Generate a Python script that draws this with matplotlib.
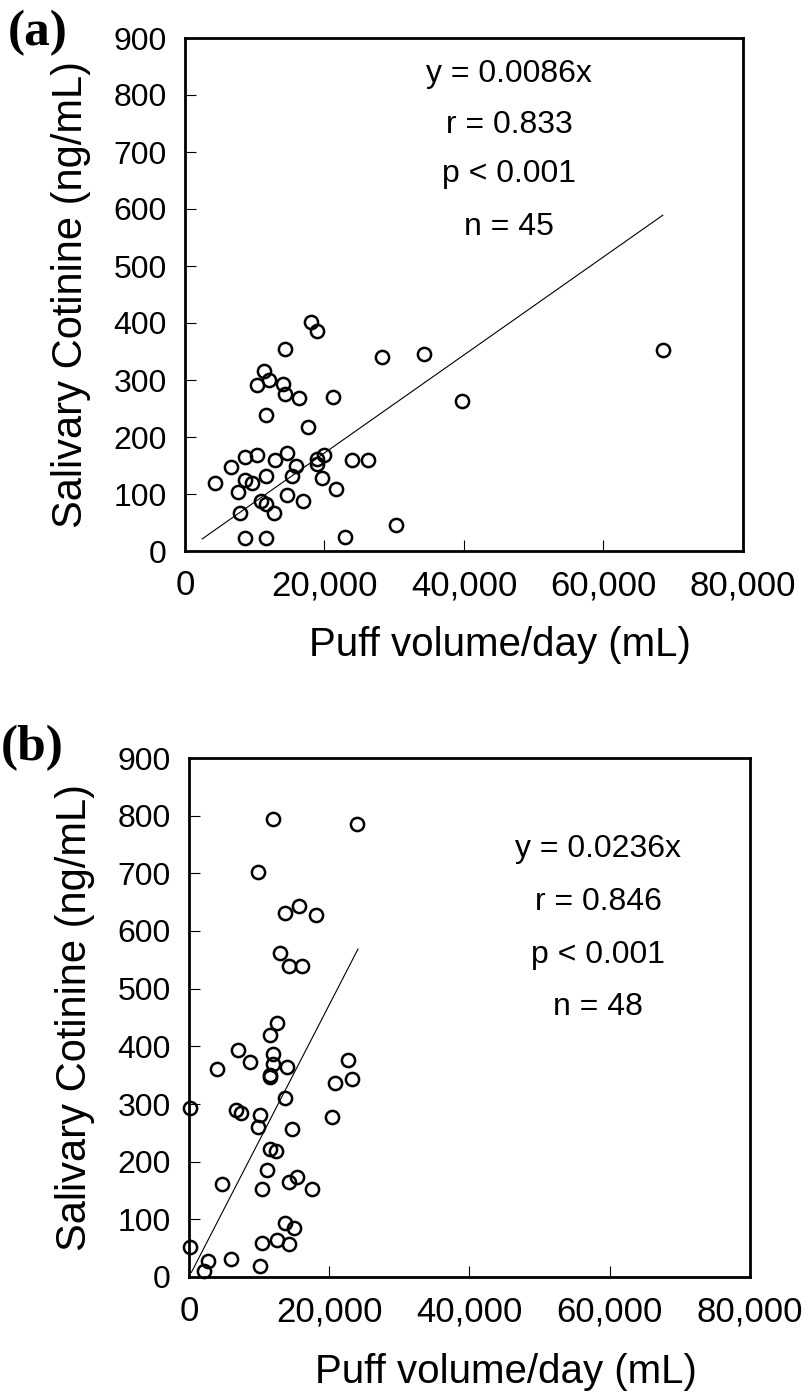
'''plot.py
Salivary cotinine vs puff volume/day, two scatter panels with regression lines.
'''
import matplotlib
matplotlib.use('Agg')
import matplotlib.pyplot as plt

plt.rcParams['font.family'] = ['Liberation Sans', 'DejaVu Sans']

# panel (a)
a_x = [18000, 18950, 14290, 28240, 34290, 11290, 10290, 12000, 14000, 14330,
       16290, 21290, 11620, 17620, 8620, 10290, 6570, 12900, 14620, 15950,
       18950, 18950, 20000, 24000, 26290, 4290, 8620, 9620, 11620, 15330,
       7620, 19670, 21670, 14620, 10860, 11620, 16950, 7900, 12710, 30290,
       8670, 11620, 23000, 39710, 68470]
a_y = [402, 386, 354, 341, 346, 316, 292, 300, 293, 275,
       268, 271, 239, 218, 165, 168, 148, 160, 172, 149,
       161, 153, 169, 160, 160, 120, 124, 120, 132, 132,
       103, 128, 108, 99, 88, 83, 88, 66, 66, 46,
       22, 22, 25, 264, 353]
a_slope = 0.0086
a_fit_x = [2470, 68500]
a_stats = ['y = 0.0086x', 'r = 0.833', 'p < 0.001', 'n = 45']

# panel (b)
b_x = [11910, 23960, 9860, 13670, 15670, 18050, 12910, 14240, 16050, 12570,
       11530, 7050, 11910, 8770, 3960, 11910, 13910, 11530, 11530, 22630,
       23240, 20810, 13670, 100, 6670, 7430, 10140, 20430, 9860, 14670,
       11480, 12340, 11140, 4670, 10480, 14240, 15340, 17480, 13620, 15000,
       10480, 12520, 14290, 100, 2670, 6050, 10140, 2190]
b_y = [794, 786, 702, 631, 643, 627, 561, 540, 540, 440,
       419, 393, 386, 373, 360, 369, 364, 351, 347, 376,
       343, 336, 311, 293, 289, 285, 281, 277, 260, 256,
       222, 218, 185, 161, 152, 165, 173, 152, 94, 85,
       59, 64, 57, 52, 27, 31, 19, 10]
b_slope = 0.0236
b_fit_x = [340, 24100]
b_stats = ['y = 0.0236x', 'r = 0.846', 'p < 0.001', 'n = 48']

x_ticks = [0, 20000, 40000, 60000, 80000]
x_tick_labels = ['0', '20,000', '40,000', '60,000', '80,000']
y_ticks = list(range(0, 1000, 100))


def panel(ax, xs, ys, slope, fit_x, stats, stats_x, stats_y):
    ax.plot(xs, ys, linestyle='none', marker='o', markersize=9.5,
            markerfacecolor='none', markeredgecolor='black',
            markeredgewidth=1.8, clip_on=False, zorder=3)
    ax.plot(fit_x, [slope * v for v in fit_x], color='black', linewidth=0.8)
    ax.set_xlim(0, 80000)
    ax.set_ylim(0, 900)
    ax.set_xticks(x_ticks)
    ax.set_xticklabels(x_tick_labels)
    ax.set_yticks(y_ticks)
    ax.tick_params(axis='both', direction='in', length=8, width=0.8,
                   top=False, right=False)
    ax.tick_params(axis='x', labelsize=25, pad=13)
    ax.tick_params(axis='y', labelsize=23, pad=13)
    for sp in ax.spines.values():
        sp.set_linewidth(2.0)
    ax.set_xlabel('Puff volume/day (mL)', fontsize=29)
    ax.xaxis.set_label_coords(0.565, -0.147)
    ax.set_ylabel('Salivary Cotinine (ng/mL)', fontsize=30, labelpad=16)
    for txt, yy in zip(stats, stats_y):
        ax.text(stats_x, yy, txt, transform=ax.transAxes, fontsize=23,
                ha='center', va='baseline')


fig = plt.figure(figsize=(8.12, 13.96), dpi=100)
ax1 = fig.add_axes([185 / 812, 1 - 551 / 1396, 558 / 812, 513 / 1396])
ax2 = fig.add_axes([189 / 812, 1 - 1277 / 1396, 561 / 812, 519 / 1396])

panel(ax1, a_x, a_y, a_slope, a_fit_x, a_stats, 0.581,
      [0.914, 0.815, 0.719, 0.616])
panel(ax2, b_x, b_y, b_slope, b_fit_x, b_stats, 0.729,
      [0.809, 0.707, 0.605, 0.505])

fig.text(8 / 812, 1 - 33 / 1396, '(a)', fontsize=37, fontweight='bold',
         family='Liberation Serif', ha='left', va='center')
fig.text(1 / 812, 1 - 748 / 1396, '(b)', fontsize=37, fontweight='bold',
         family='Liberation Serif', ha='left', va='center')

plt.savefig('out.png', dpi=100)
